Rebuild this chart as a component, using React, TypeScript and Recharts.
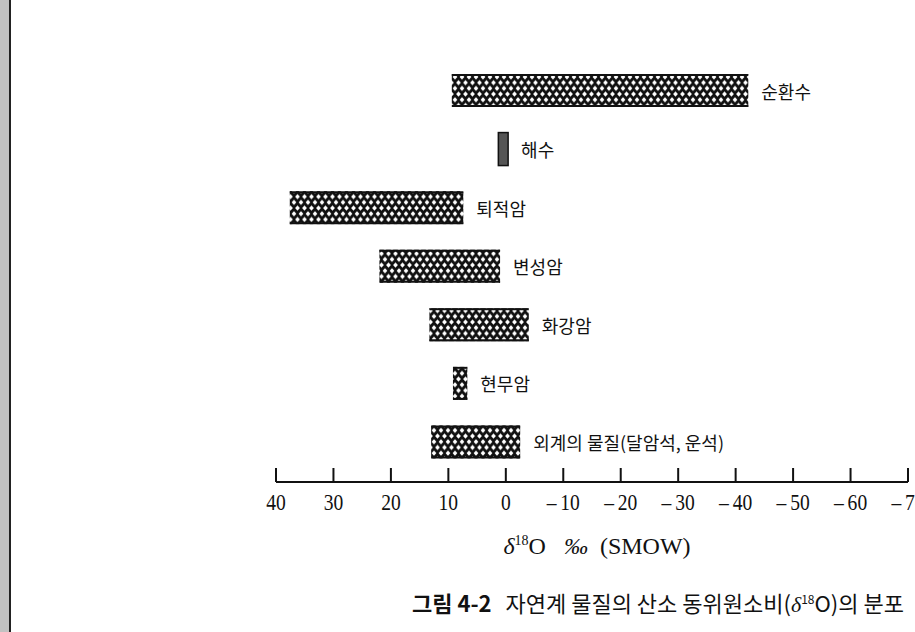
import {Bar, BarChart, LabelList, XAxis, YAxis} from 'recharts'

// δ18O ranges (‰, SMOW)
const materials = ['순환수', '해수', '퇴적암', '변성암', '화강암', '현무암', '외계의 물질(달암석, 운석)']
const upperValues = [9.4, 1.3, 37.6, 22, 13.3, 9.2, 13]
const lowerValues = [-42.2, -0.4, 7.4, 1, -4, 6.7, -2.5]
const ticks = [40, 30, 20, 10, 0, -10, -20, -30, -40, -50, -60, -70]

const data = materials.map((name, i) => ({name, range: [lowerValues[i], upperValues[i]]}))

// drawn solid instead of hatched
const solidRows = ['해수']

const serif = '"Liberation Serif", "DejaVu Serif", serif'
const korean = '"Noto Sans CJK KR", "Noto Sans", sans-serif'

const RangeBar = (props: any) => {
    const {x, y, width, height, payload} = props
    const left = Math.min(x, x + width)
    const w = Math.abs(width)
    if (solidRows.includes(payload.name)) {
        return <rect x={left} y={y} width={w} height={height} fill="#555" stroke="#111" strokeWidth={1.5} />
    }
    return (
        <g>
            <rect x={left} y={y} width={w} height={height} fill="url(#hatch)" />
            <line x1={left} x2={left + w} y1={y + 1} y2={y + 1} stroke="#111" strokeWidth={2} />
            <line x1={left} x2={left + w} y1={y + height - 1} y2={y + height - 1} stroke="#111" strokeWidth={2} />
        </g>
    )
}

const BarName = (props: any) => {
    const {x, y, width, height, value} = props
    return (
        <text x={Math.max(x, x + width) + 13} y={y + height / 2} dominantBaseline="central"
              fontFamily={korean} fontSize={18} fill="#111">
            {value}
        </text>
    )
}

const AxisTick = ({x, y, payload}: any) => {
    const v = payload.value
    const label = v < 0 ? '\u2013\u2009' + Math.abs(v) : String(v)
    return (
        <g>
            <line x1={x} x2={x} y1={y - 14} y2={y} stroke="#111" strokeWidth={2} />
            <text transform={`translate(${x} ${y + 28}) scale(0.85 1)`} textAnchor="middle"
                  fontFamily={serif} fontSize={23} fill="#111">
                {label}
            </text>
        </g>
    )
}

const AxisTitle = ({viewBox}: any) => (
    <text x={viewBox.x + viewBox.width / 2 + 5} y={viewBox.y + 72} textAnchor="middle"
          fontFamily={serif} fontSize={24} fill="#111">
        <tspan fontStyle="italic">δ</tspan>
        <tspan fontSize={14} dy={-9}>18</tspan>
        <tspan dy={9}>O</tspan>
        <tspan dx={18} fontStyle="italic">‰</tspan>
        <tspan dx={12}>(SMOW)</tspan>
    </text>
)

const App = () => {
    return (
        <div style={{position: 'absolute', left: 0, top: 0, width: 915, height: 632, overflow: 'hidden', background: '#fff'}}>
            <div style={{position: 'absolute', left: 0, top: 0, width: 9, height: 632, background: '#c2c2c2', borderRight: '2px solid #222'}} />
            <BarChart width={915} height={632} data={data} layout="vertical"
                      margin={{top: 61, right: 7, bottom: 0, left: 276}}>
                <defs>
                    <pattern id="hatch" patternUnits="userSpaceOnUse" width={7} height={11.4}>
                        <rect width={7} height={11.4} fill="#111" />
                        <polygon points="3.5,0.3 5.9,2.85 3.5,5.4 1.1,2.85" fill="#fff" />
                        <polygon points="0,6 2.4,8.55 0,11.1 -2.4,8.55" fill="#fff" />
                        <polygon points="7,6 9.4,8.55 7,11.1 4.6,8.55" fill="#fff" />
                    </pattern>
                </defs>
                <XAxis type="number" domain={[-70, 40]} ticks={ticks} reversed allowDataOverflow
                       height={150} tickSize={0} tickMargin={0} tick={<AxisTick />} interval={0}
                       axisLine={{stroke: '#111', strokeWidth: 2}} label={<AxisTitle />} />
                <YAxis type="category" dataKey="name" hide padding={{top: 0, bottom: 11}} />
                <Bar dataKey="range" barSize={33} shape={<RangeBar />} isAnimationActive={false}>
                    <LabelList dataKey="name" content={<BarName />} />
                </Bar>
            </BarChart>
            <div style={{position: 'absolute', left: 412, top: 583, whiteSpace: 'nowrap', fontFamily: korean,
                fontSize: 22, color: '#111', lineHeight: '32px'}}>
                <span style={{fontWeight: 700}}>그림 4-2</span>
                <span style={{marginLeft: 14}}>자연계 물질의 산소 동위원소비(<i style={{fontFamily: serif}}>δ</i><sup style={{fontSize: 12}}>18</sup>O)의 분포</span>
            </div>
        </div>
    )
}

export default App
